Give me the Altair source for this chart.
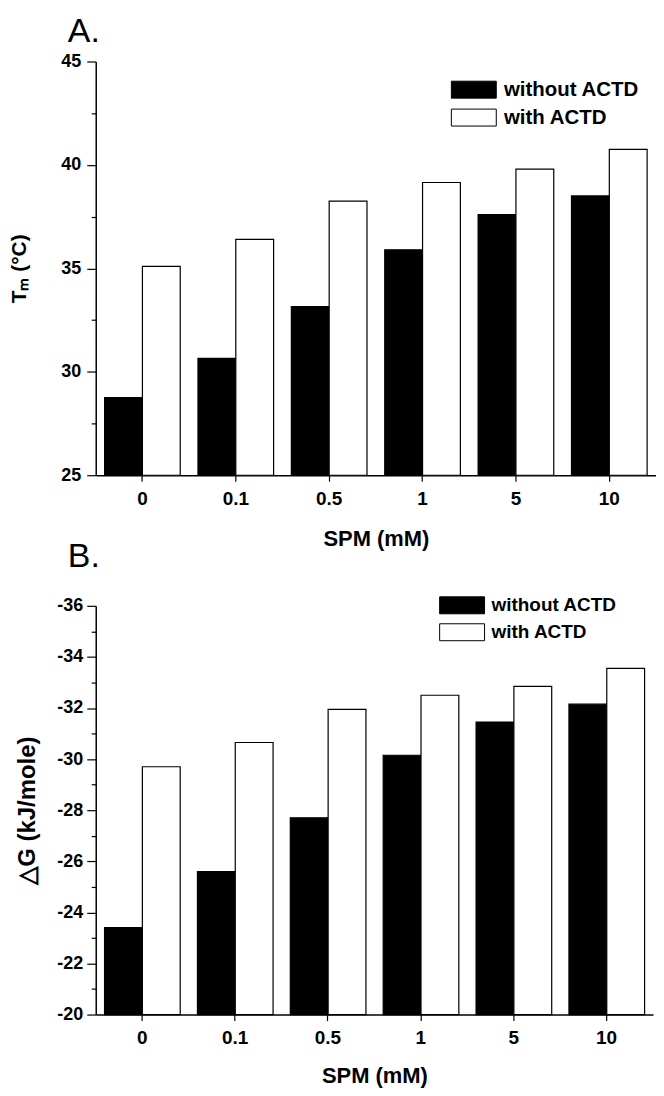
import altair as alt
import pandas as pd

# ---- data ----
conc = ["0", "0.1", "0.5", "1", "5", "10"]
series = ["without ACTD", "with ACTD"]

tm_without = [28.75, 30.65, 33.15, 35.9, 37.6, 38.5]
tm_with = [35.1, 36.4, 38.25, 39.15, 39.8, 40.75]

dg_without = [-23.4, -25.6, -27.7, -30.15, -31.45, -32.15]
dg_with = [-29.7, -30.65, -31.95, -32.5, -32.85, -33.55]

tm_ticks = [25, 27.5, 30, 32.5, 35, 37.5, 40, 42.5, 45]
dg_ticks = [-36, -35, -34, -33, -32, -31, -30, -29, -28, -27, -26, -25, -24, -23, -22, -21, -20]

FONT = "Liberation Sans"


def frame(a, b):
    rows = []
    for c, v1, v2 in zip(conc, a, b):
        rows.append({"SPM": c, "series": series[0], "value": v1})
        rows.append({"SPM": c, "series": series[1], "value": v2})
    return pd.DataFrame(rows)


def panel(df, title, title_offset, ytitle, ytitle_size, domain, reverse, base, ticks,
          major_test, label_expr, w, h, legend_x, legend_y, legend_fs,
          y_title_pad, y_label_pad, x_title_pad):
    color = alt.Color(
        "series:N",
        scale=alt.Scale(domain=series, range=["#000000", "#ffffff"]),
        legend=alt.Legend(
            title=None, orient="none", legendX=legend_x, legendY=legend_y,
            symbolType="M-2.65,-1H2.65V1H-2.65Z", symbolSize=289,
            symbolStrokeColor="#000000", symbolStrokeWidth=1, symbolOpacity=1,
            labelFont=FONT, labelFontSize=legend_fs, labelFontWeight="bold",
            labelColor="#000000", labelOffset=20, rowPadding=6, padding=0,
        ),
    )
    return (
        alt.Chart(
            df,
            title=alt.Title(title, anchor="start", frame="group", dx=-28, fontSize=34, font=FONT,
                            fontWeight="normal", color="#000000", offset=title_offset),
        )
        .mark_bar(stroke="#000000", strokeWidth=1.2)
        .encode(
            x=alt.X(
                "SPM:N", sort=conc,
                scale=alt.Scale(paddingInner=0.19, paddingOuter=0.095),
                axis=alt.Axis(
                    title="SPM (mM)", labelAngle=0, bandPosition=0.5,
                    labelFont=FONT, labelFontSize=19, labelFontWeight="bold", labelColor="#000000",
                    labelPadding=8, tickSize=6, tickColor="#000000", tickWidth=1.2,
                    domainColor="#000000", domainWidth=1.5,
                    titleFont=FONT, titleFontSize=22, titleFontWeight="bold", titleColor="#000000",
                    titlePadding=x_title_pad, grid=False,
                ),
            ),
            xOffset=alt.XOffset("series:N", sort=series, scale=alt.Scale(paddingInner=0, paddingOuter=0)),
            y=alt.Y(
                "value:Q",
                scale=alt.Scale(domain=domain, reverse=reverse, nice=False, zero=False),
                axis=alt.Axis(
                    title=ytitle, values=ticks, labelExpr=label_expr,
                    tickSize={"condition": {"test": major_test, "value": 9}, "value": 4.5},
                    tickColor="#000000", tickWidth=1.2,
                    domainColor="#000000", domainWidth=1.5,
                    labelFont=FONT, labelFontSize=18, labelFontWeight="bold", labelColor="#000000",
                    labelPadding=y_label_pad,
                    titleFont=FONT, titleFontSize=ytitle_size, titleFontWeight="bold",
                    titleColor="#000000", titlePadding=y_title_pad, grid=False,
                ),
            ),
            y2=alt.datum(base),
            color=color,
        )
        .properties(width=w, height=h)
    )


chart_a = panel(
    frame(tm_without, tm_with), "A.", 4, "Tₘ (°C)", 21,
    [25, 45], False, 25, tm_ticks,
    "datum.value % 5 === 0", "datum.value % 5 === 0 ? toString(datum.value) : ''",
    562, 415, 369, 18, 20.5, 31, 6, 20,
)

chart_b = panel(
    frame(dg_without, dg_with), "B.", 22, "△G (kJ/mole)", 24,
    [-36, -20], True, -20, dg_ticks,
    "datum.value % 2 === 0", "datum.value % 2 === 0 ? toString(datum.value) : ''",
    559, 410, 358, -10, 19, 17, 4, 18,
)

chart = (
    alt.vconcat(chart_a, chart_b, spacing=-9)
    .resolve_scale(color="independent", x="independent", y="independent")
    .configure_view(stroke=None)
    .properties(padding={"left": 0, "top": 5, "right": 0, "bottom": 0})
)

chart.save("out.html", embed_options={"renderer": "svg", "actions": False})
